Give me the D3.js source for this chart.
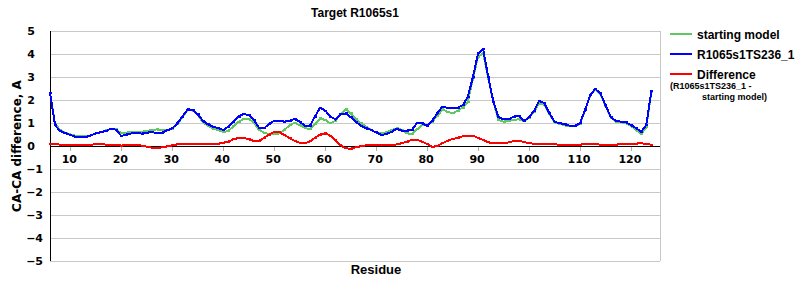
<!DOCTYPE html>
<html>
<head>
<meta charset="utf-8">
<script src="https://cdn.jsdelivr.net/npm/d3@7"></script>
<style>
  body { margin: 0; background: #fff; }
  text { font-family: "Liberation Sans", Arial, sans-serif; font-weight: bold; }
</style>
</head>
<body>
<div class="chart"></div>
<script>
// residues 6..124
let firstResidue = 6
let startingModel = [
  2.30, 0.95, 0.70, 0.58, 0.50, 0.45, 0.43, 0.42, 0.46, 0.55,
  0.60, 0.68, 0.75, 0.72, 0.55, 0.58, 0.62, 0.63, 0.62, 0.65,
  0.70, 0.72, 0.68, 0.70, 0.75, 0.95, 1.25, 1.55, 1.55, 1.35,
  1.03, 0.87, 0.75, 0.70, 0.60, 0.66, 0.85, 1.05, 1.18, 1.18,
  1.03, 0.70, 0.58, 0.51, 0.51, 0.55, 0.70, 0.90, 1.01, 0.90,
  0.80, 0.72, 0.95, 1.20, 1.13, 0.99, 1.09, 1.38, 1.59, 1.42,
  1.16, 0.99, 0.84, 0.70, 0.59, 0.55, 0.59, 0.70, 0.77, 0.70,
  0.55, 0.52, 0.72, 0.91, 0.91, 1.06, 1.30, 1.59, 1.49, 1.42,
  1.54, 1.67, 1.93, 2.94, 3.88, 4.03, 2.94, 1.90, 1.13, 1.06,
  1.09, 1.13, 1.16, 1.09, 1.22, 1.50, 1.86, 1.78, 1.38, 1.03,
  0.96, 0.90, 0.85, 0.85, 0.97, 1.55, 2.20, 2.45, 2.27, 1.76,
  1.25, 1.06, 1.03, 1.00, 0.87, 0.70, 0.52, 0.81, 2.36
]
let model = [
  2.32, 0.90, 0.65, 0.55, 0.48, 0.41, 0.38, 0.40, 0.46, 0.55,
  0.60, 0.66, 0.76, 0.70, 0.43, 0.50, 0.55, 0.57, 0.54, 0.58,
  0.60, 0.57, 0.58, 0.68, 0.77, 0.99, 1.28, 1.59, 1.55, 1.38,
  1.09, 0.94, 0.84, 0.77, 0.70, 0.84, 1.06, 1.28, 1.39, 1.35,
  1.14, 0.80, 0.77, 0.96, 1.10, 1.10, 1.06, 1.10, 1.17, 1.06,
  0.88, 0.88, 1.28, 1.67, 1.54, 1.28, 1.16, 1.38, 1.42, 1.25,
  1.06, 0.88, 0.77, 0.70, 0.59, 0.48, 0.52, 0.62, 0.74, 0.67,
  0.67, 0.70, 0.99, 0.99, 0.88, 1.10, 1.42, 1.71, 1.66, 1.65,
  1.67, 1.78, 2.14, 3.01, 4.03, 4.20, 3.01, 1.93, 1.25, 1.16,
  1.17, 1.28, 1.30, 1.09, 1.25, 1.54, 1.96, 1.86, 1.42, 1.06,
  0.99, 0.94, 0.88, 0.88, 0.99, 1.57, 2.22, 2.48, 2.29, 1.78,
  1.28, 1.09, 1.06, 1.03, 0.91, 0.77, 0.62, 0.91, 2.39
]
let difference = [
  0.09, 0.08, 0.06, 0.05, 0.05, 0.04, 0.04, 0.05, 0.06, 0.07,
  0.08, 0.06, 0.05, 0.04, 0.02, 0.04, 0.05, 0.04, 0.02, -0.03,
  -0.07, -0.08, -0.06, -0.02, 0.03, 0.07, 0.10, 0.10, 0.08, 0.07,
  0.07, 0.08, 0.10, 0.10, 0.14, 0.19, 0.29, 0.35, 0.36, 0.29,
  0.22, 0.22, 0.35, 0.50, 0.62, 0.60, 0.48, 0.35, 0.22, 0.14,
  0.12, 0.20, 0.36, 0.50, 0.55, 0.45, 0.25, 0.03, -0.10, -0.12,
  -0.06, -0.01, 0.03, 0.04, 0.04, 0.03, 0.04, 0.04, 0.07, 0.12,
  0.19, 0.26, 0.27, 0.19, 0.09, -0.04, 0.00, 0.12, 0.23, 0.30,
  0.36, 0.42, 0.45, 0.45, 0.35, 0.26, 0.16, 0.12, 0.12, 0.12,
  0.16, 0.22, 0.22, 0.18, 0.12, 0.10, 0.10, 0.10, 0.08, 0.07,
  0.06, 0.05, 0.04, 0.05, 0.06, 0.08, 0.09, 0.08, 0.06, 0.05,
  0.05, 0.06, 0.08, 0.09, 0.09, 0.10, 0.13, 0.08, 0.06
]
let xTicks = [10, 20, 30, 40, 50, 60, 70, 80, 90, 100, 110, 120]
let yTicks = [5, 4, 3, 2, 1, 0, -1, -2, -3, -4, -5]

let series = [
  { name: "starting model", values: startingModel, color: "#5fc85f" },
  { name: "R1065s1TS236_1", values: model, color: "#0000ff" },
  { name: "Difference", values: difference, color: "#ff0000" }
]

let plotLeft = 50, plotRight = 660, plotTop = 31, plotBottom = 261

let x = d3.scaleLinear().domain([6, 125.7]).range([plotLeft, plotRight])
let y = d3.scaleLinear().domain([-5, 5]).range([plotBottom, plotTop])

let svg = d3.select(".chart")
  .append("svg")
  .attr("width", 800)
  .attr("height", 300)

// gridlines
svg.append("g")
  .selectAll("line")
  .data(yTicks)
  .enter()
  .append("line")
  .attr("x1", plotLeft)
  .attr("x2", plotRight)
  .attr("y1", d => Math.round(y(d)) + 0.5)
  .attr("y2", d => Math.round(y(d)) + 0.5)
  .attr("stroke", "#c8c8c8")
  .attr("stroke-width", 1)

svg.append("line")
  .attr("x1", plotRight + 0.5).attr("x2", plotRight + 0.5)
  .attr("y1", plotTop).attr("y2", plotBottom)
  .attr("stroke", "#c8c8c8")

// x ticks on the zero line
svg.append("g")
  .selectAll("line")
  .data(xTicks)
  .enter()
  .append("line")
  .attr("x1", d => Math.round(x(d)) + 0.5)
  .attr("x2", d => Math.round(x(d)) + 0.5)
  .attr("y1", y(0))
  .attr("y2", y(0) + 5)
  .attr("stroke", "#b0b0b0")

svg.append("g")
  .selectAll("text")
  .data(xTicks)
  .enter()
  .append("text")
  .attr("x", d => x(d) - 1)
  .attr("y", y(0) + 17)
  .attr("text-anchor", "middle")
  .attr("font-size", 11)
  .style("font-family", "'DejaVu Sans', sans-serif")
  .text(d => d)

svg.append("g")
  .selectAll("text")
  .data(yTicks)
  .enter()
  .append("text")
  .attr("x", d => d < 0 ? 43 : 35)
  .attr("y", d => y(d) + 4)
  .attr("text-anchor", "end")
  .attr("font-size", 11)
  .style("font-family", "'DejaVu Sans', sans-serif")
  .text(d => d < 0 ? "\u2212" + Math.abs(d) : d)

// axes lines
svg.append("line")
  .attr("x1", plotLeft).attr("x2", plotRight)
  .attr("y1", Math.round(y(0)) + 0.5).attr("y2", Math.round(y(0)) + 0.5)
  .attr("stroke", "#000")
svg.append("line")
  .attr("x1", plotLeft + 0.5).attr("x2", plotLeft + 0.5)
  .attr("y1", plotTop).attr("y2", plotBottom)
  .attr("stroke", "#000")

// series
let line = d3.line()
  .x((d, i) => x(firstResidue + i))
  .y(d => y(d))

series.forEach(s => {
  let g = svg.append("g")
  g.append("path")
    .datum(s.values)
    .attr("d", line)
    .attr("fill", "none")
    .attr("stroke", s.color)
    .attr("stroke-width", 2)
    .attr("shape-rendering", "crispEdges")
  g.selectAll("rect")
    .data(s.values)
    .enter()
    .append("rect")
    .attr("x", (d, i) => Math.round(x(firstResidue + i)) - 1)
    .attr("y", d => Math.round(y(d)) - 1)
    .attr("width", 3)
    .attr("height", 2)
    .attr("fill", s.color)
    .attr("shape-rendering", "crispEdges")
})

// titles
svg.append("text")
  .attr("x", 355)
  .attr("y", 17)
  .attr("text-anchor", "middle")
  .attr("font-size", 12)
  .style("font-family", "'Liberation Sans Narrow', 'Liberation Sans', sans-serif")
  .text("Target R1065s1")

svg.append("text")
  .attr("transform", "translate(21,146) rotate(-90)")
  .attr("text-anchor", "middle")
  .attr("font-size", 12)
  .style("font-family", "'DejaVu Sans', sans-serif")
  .text("CA-CA difference, A")

svg.append("text")
  .attr("x", 376)
  .attr("y", 274)
  .attr("text-anchor", "middle")
  .attr("font-size", 13)
  .text("Residue")

// legend
let legendY = [34, 54, 74]
series.forEach((s, i) => {
  svg.append("line")
    .attr("x1", 670).attr("x2", 692)
    .attr("y1", legendY[i]).attr("y2", legendY[i])
    .attr("stroke", s.color)
    .attr("stroke-width", 2)
  svg.append("text")
    .attr("x", 697)
    .attr("y", legendY[i] + 5)
    .attr("font-size", 12)
    .text(s.name)
})
svg.append("text")
  .attr("x", 670)
  .attr("y", 89)
  .attr("font-size", 9)
  .text("(R1065s1TS236_1 -")
svg.append("text")
  .attr("x", 702)
  .attr("y", 100)
  .attr("font-size", 9)
  .text("starting model)")
</script>
</body>
</html>
